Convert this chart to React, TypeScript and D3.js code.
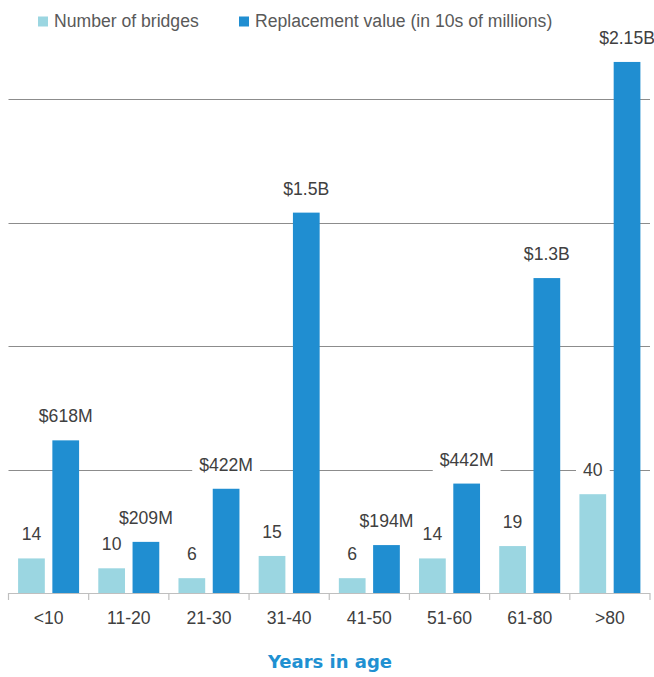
import React, { useEffect, useRef } from "react";
import * as d3 from "d3";

const categories = ["<10", "11-20", "21-30", "31-40", "41-50", "51-60", "61-80", ">80"];
const bridgeCounts = [14, 10, 6, 15, 6, 14, 19, 40];
const replacementValues = [61.8, 20.7, 42.2, 154, 19.4, 44.3, 127.5, 215];
const valueLabels = ["$618M", "$209M", "$422M", "$1.5B", "$194M", "$442M", "$1.3B", "$2.15B"];
const gridTicks = [50, 100, 150, 200];
const seriesNames = ["Number of bridges", "Replacement value (in 10s of millions)"];

const W = 654;
const H = 677;
const LIGHT = "#9bd6e1";
const DARK = "#208ed1";
const FONT = "'Liberation Sans', Arial, sans-serif";
const FS = 17.6;

export default function App() {
  const ref = useRef<SVGSVGElement | null>(null);

  useEffect(() => {
    const svg = d3.select(ref.current);
    svg.selectAll("*").remove();

    const left = 8.5;
    const right = 650;
    const baseY = 593;

    const x = d3.scaleBand<string>().domain(categories).range([left, right]).paddingInner(0).paddingOuter(0);
    const y = d3.scaleLinear().domain([0, 200]).range([baseY, 99]);
    const sub = d3.scaleBand<string>().domain(["a", "b"]).range([0, x.bandwidth()]).paddingInner(0.22).paddingOuter(0.28);

    // gridlines
    svg.append("g")
      .selectAll("line")
      .data(gridTicks)
      .join("line")
      .attr("x1", left)
      .attr("x2", right)
      .attr("y1", (d) => Math.round(y(d)) + 0.5)
      .attr("y2", (d) => Math.round(y(d)) + 0.5)
      .attr("stroke", "#8c8c8c")
      .attr("stroke-width", 1.2);

    // bars
    const g = svg.append("g");
    g.selectAll("rect.light")
      .data(categories)
      .join("rect")
      .attr("class", "light")
      .attr("x", (c) => (x(c) as number) + (sub("a") as number))
      .attr("width", sub.bandwidth())
      .attr("y", (c, i) => y(bridgeCounts[i]))
      .attr("height", (c, i) => baseY - y(bridgeCounts[i]))
      .attr("fill", LIGHT);
    g.selectAll("rect.dark")
      .data(categories)
      .join("rect")
      .attr("class", "dark")
      .attr("x", (c) => (x(c) as number) + (sub("b") as number))
      .attr("width", sub.bandwidth())
      .attr("y", (c, i) => y(replacementValues[i]))
      .attr("height", (c, i) => baseY - y(replacementValues[i]))
      .attr("fill", DARK);

    // axis
    const axis = svg.append("g");
    axis.append("line")
      .attr("x1", left).attr("x2", right)
      .attr("y1", baseY + 0.5).attr("y2", baseY + 0.5)
      .attr("stroke", "#bfbfbf").attr("stroke-width", 1.2);
    const bounds = categories.map((c) => x(c) as number).concat([right]);
    axis.selectAll("line.tick")
      .data(bounds)
      .join("line")
      .attr("class", "tick")
      .attr("x1", (d) => d).attr("x2", (d) => d)
      .attr("y1", baseY).attr("y2", baseY + 7)
      .attr("stroke", "#bfbfbf").attr("stroke-width", 1.2);
    axis.selectAll("text")
      .data(categories)
      .join("text")
      .attr("x", (c) => (x(c) as number) + x.bandwidth() / 2)
      .attr("y", 624)
      .attr("text-anchor", "middle")
      .attr("font-family", FONT)
      .attr("font-size", FS)
      .attr("fill", "#404040")
      .text((c) => c);

    // value labels with white backgrounds
    const addLabel = (cx: number, topY: number, txt: string) => {
      const lg = svg.append("g");
      const rect = lg.append("rect").attr("fill", "#ffffff");
      const t = lg.append("text")
        .attr("x", cx)
        .attr("y", topY - 18)
        .attr("text-anchor", "middle")
        .attr("font-family", FONT)
        .attr("font-size", FS)
        .attr("fill", "#404040")
        .text(txt);
      const bb = (t.node() as SVGTextElement).getBBox();
      rect.attr("x", bb.x - 7).attr("y", bb.y - 2).attr("width", bb.width + 14).attr("height", bb.height + 4);
    };
    categories.forEach((c, i) => {
      const xa = (x(c) as number) + (sub("a") as number) + sub.bandwidth() / 2;
      const xb = (x(c) as number) + (sub("b") as number) + sub.bandwidth() / 2;
      addLabel(xa, y(bridgeCounts[i]), String(bridgeCounts[i]));
      addLabel(xb, y(replacementValues[i]), valueLabels[i]);
    });

    // legend
    const legendX = [38, 239];
    const colors = [LIGHT, DARK];
    const lg = svg.append("g");
    seriesNames.forEach((name, i) => {
      lg.append("rect").attr("x", legendX[i]).attr("y", 16.5).attr("width", 10).attr("height", 10).attr("fill", colors[i]);
      lg.append("text")
        .attr("x", legendX[i] + 16)
        .attr("y", 27)
        .attr("font-family", FONT)
        .attr("font-size", FS)
        .attr("fill", "#595959")
        .text(name);
    });

    // axis title
    svg.append("text")
      .attr("x", 330)
      .attr("y", 668)
      .attr("text-anchor", "middle")
      .attr("font-family", "'DejaVu Sans', sans-serif")
      .attr("font-weight", "bold")
      .attr("font-size", 18)
      .attr("fill", "#2090d1")
      .text("Years in age");
  }, []);

  return (
    <svg
      ref={ref}
      width={W}
      height={H}
      style={{ position: "absolute", left: 0, top: 0, background: "#ffffff" }}
    />
  );
}
